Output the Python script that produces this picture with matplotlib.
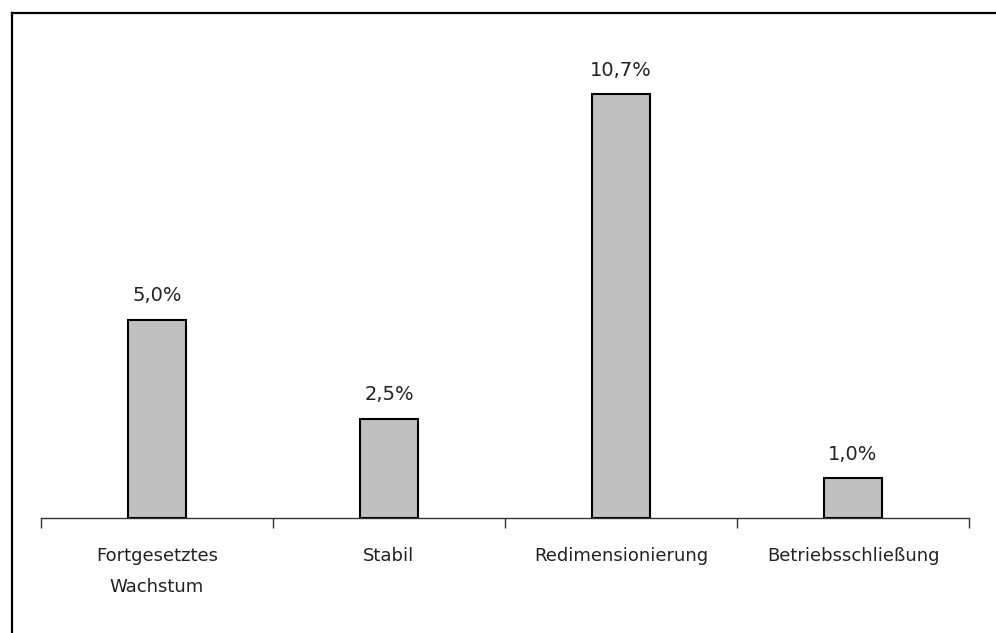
import matplotlib.pyplot as plt
from matplotlib.lines import Line2D
import numpy as np

# Szenarien und Anteile (%)
kategorien = ["Fortgesetztes\nWachstum", "Stabil", "Redimensionierung", "Betriebsschließung"]
werte = [5.0, 2.5, 10.7, 1.0]

W, H = 996, 633
fig = plt.figure(figsize=(W / 100, H / 100), dpi=100)
plt.rcParams['font.family'] = ['DejaVu Sans']

# Achse: x-Linie bei y=518 px, von x=41 bis x=969 px
x0, x1 = 41, 969
y_base = 518
px_pro_prozent = 39.6
ymax = 12.0
ax = fig.add_axes([x0 / W, (H - y_base) / H, (x1 - x0) / W, ymax * px_pro_prozent / H])

pos = np.arange(len(kategorien))
ax.bar(pos, werte, width=0.25, color='#c0c0c0', edgecolor='black', linewidth=1.5, zorder=3)

for p, v in zip(pos, werte):
    ax.annotate(f"{v:.1f}%".replace('.', ','), (p, v), xytext=(0, 10.5), textcoords='offset points',
                ha='center', va='bottom', fontsize=14, color='#222222')

ax.set_xlim(-0.5, len(kategorien) - 0.5)
ax.set_ylim(0, ymax)
ax.set_yticks([])
for s in ['top', 'right', 'left']:
    ax.spines[s].set_visible(False)
ax.spines['bottom'].set_linewidth(1.0)
ax.spines['bottom'].set_color('#333333')

# Ticks an den Kategoriegrenzen, Beschriftungen in der Mitte
ax.set_xticks(np.arange(len(kategorien) + 1) - 0.5)
ax.set_xticklabels([])
ax.tick_params(axis='x', length=7, width=1.0, color='#333333')
ax.set_xticks(pos, minor=True)
ax.set_xticklabels(kategorien, minor=True, fontsize=13, color='#222222', linespacing=1.95)
ax.tick_params(axis='x', which='minor', length=0, pad=21)

# Rahmen um das Diagramm (links und oben sichtbar)
fig.add_artist(Line2D([11.5 / W, 11.5 / W], [0, 1 - 12.5 / H], transform=fig.transFigure,
                      color='black', linewidth=1.6))
fig.add_artist(Line2D([11.5 / W, 1], [1 - 12.5 / H, 1 - 12.5 / H], transform=fig.transFigure,
                      color='black', linewidth=1.6))

fig.savefig('out.png', dpi=100)
